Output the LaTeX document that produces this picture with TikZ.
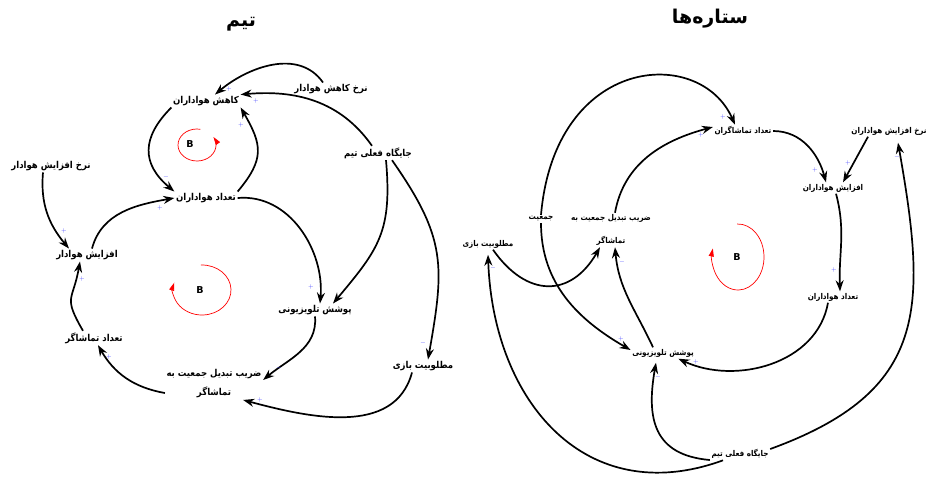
\documentclass[tikz,border=0pt]{standalone}
\usepackage{fontspec}
\usepackage{xcolor}
\usetikzlibrary{arrows.meta}
\newfontfamily\arabicfont[Script=Arabic]{DejaVu Sans}
\newfontfamily\narrowfont[Script=Arabic]{DejaVu Sans Condensed}
\TeXXeTstate=1
\newcommand{\fa}[1]{{\arabicfont\beginR #1\endR}}
\newcommand{\fn}[1]{{\narrowfont\beginR #1\endR}}
\definecolor{signblue}{RGB}{70,70,255}

\begin{document}
\begin{tikzpicture}[x=1pt,y=-1pt]
        \tikzset{var/.style={inner sep=1.5pt,font=\bfseries\fontsize{9.5}{10}\selectfont},
            rvar/.style={inner sep=1.5pt,font=\bfseries\fontsize{8}{8}\selectfont},
            heading/.style={font=\bfseries\fontsize{19}{22}\selectfont},
            lnk/.style={draw,line width=1.7pt,-{Stealth[length=11pt,width=8pt]}},
            sgn/.style={text=signblue,inner sep=0pt,font=\fontsize{6}{6}\selectfont},
            loopline/.style={draw=red,line width=0.7pt,-{Triangle[length=8pt,width=5pt]}},
            looplabel/.style={font=\arabicfont\bfseries\fontsize{9.5}{10}\selectfont}}
        \useasboundingbox (0,0) rectangle (928,477);
        % team
        \node[heading] (tTeam) at (241,24) {\fa{تیم}};
        \node[var] (kah) at (206,101) {\fn{کاهش هواداران}};
        \node[var] (nkh) at (331,89) {\fn{نرخ کاهش هوادار}};
        \node[var] (jay) at (378,153) {\fn{جایگاه فعلی تیم}};
        \node[var] (nah) at (51,166) {\fn{نرخ افزایش هوادار}};
        \node[var] (tha) at (206,198) {\fn{تعداد هواداران}};
        \node[var] (afh) at (87,255) {\fn{افزایش هوادار}};
        \node[var] (pos) at (315,310) {\fn{پوشش تلویزیونی}};
        \node[var] (ttm) at (94,338) {\fn{تعداد تماشاگر}};
        \node[var,align=center,font=\bfseries\fontsize{9.5}{19}\selectfont] (zar) at (214,384)
            {\fn{ضریب تبدیل جمعیت به}\\\fn{تماشاگر}};
        \node[var] (mat) at (423,366) {\fn{مطلوبیت بازی}};
        \node[looplabel] (Bs) at (190,144) {B};
        \node[looplabel] (Bl) at (200,290) {B};

        \draw[lnk] ([xshift=-8pt]nkh.north) to[out=125,in=40] ([xshift=9pt]kah.north);
        \draw[lnk] ([xshift=-6pt]jay.north) to[out=125,in=5] (kah.north east);
        \draw[lnk] (kah.south west) to[out=225,in=140,looseness=1.3] (tha.north west);
        \draw[lnk] (tha.north east) to[out=50,in=-60,looseness=1.3] (kah.south east);
        \draw[lnk] ([xshift=-8pt]nah.south) to[out=-95,in=130] ([xshift=-18pt]afh.north);
        \draw[lnk] ([xshift=5pt]afh.north) to[out=75,in=190] (tha.west);
        \draw[lnk] (tha.east) to[out=5,in=85] ([xshift=5pt]pos.north);
        \draw[lnk] ([xshift=8pt]jay.south) to[out=-85,in=50,looseness=1.2] ([xshift=18pt]pos.north);
        \draw[lnk] ([xshift=14pt]jay.south) to[out=-55,in=80,looseness=1.2] ([xshift=5pt]mat.north);
        \draw[lnk] (pos.south) to[out=-85,in=40] ([yshift=4pt]zar.east);
        \draw[lnk] ([xshift=-11pt]mat.south) to[out=-105,in=-15] ([xshift=-20pt]zar.south east);
        \draw[lnk] ([yshift=-9pt]zar.west) to[out=170,in=-60] ([xshift=4pt]ttm.south);
        \draw[lnk] ([xshift=-11pt]ttm.north) to[out=120,in=-100,looseness=1.5] ([xshift=-7pt]afh.south);

        \draw[loopline] (197,145) ++(80:19pt and 16pt) arc[start angle=80,end angle=390,x radius=19pt,y radius=16pt];
        \draw[loopline] (202,290) ++(92:29pt and 25pt) arc[start angle=92,end angle=-197,x radius=29pt,y radius=25pt];

        % stars
        \node[heading] (tStars) at (710,19) {\fa{ستاره‌ها}};
        \node[rvar] (Rtt) at (743,131) {\fn{تعداد تماشاگران}};
        \node[rvar] (Rnh) at (889,131) {\fn{نرخ افزایش هواداران}};
        \node[rvar] (Raf) at (833,188) {\fn{افزایش هواداران}};
        \node[rvar] (Rja) at (541,219) {\fn{جمعیت}};
        \node[rvar,align=center,font=\bfseries\fontsize{8}{23}\selectfont] (Rzr) at (611,230)
            {\fn{ضریب تبدیل جمعیت به}\\\fn{تماشاگر}};
        \node[rvar] (Rmt) at (488,244) {\fn{مطلوبیت بازی}};
        \node[rvar] (Rth) at (833,297) {\fn{تعداد هواداران}};
        \node[rvar] (Rps) at (663,353) {\fn{پوشش تلویزیونی}};
        \node[rvar] (Rjy) at (740,454) {\fn{جایگاه فعلی تیم}};
        \node[looplabel] (Br) at (737,257) {B};

        \draw[lnk] (Rja.north) .. controls (555,55) and (700,45) .. ([xshift=-8pt]Rtt.north);
        \draw[lnk] ([xshift=4pt]Rzr.north) to[out=80,in=195] ([yshift=4pt]Rtt.west);
        \draw[lnk] (Rtt.east) to[out=0,in=105] ([xshift=-7pt]Raf.north);
        \draw[lnk] ([xshift=-21pt]Rnh.south) -- ([xshift=10pt]Raf.north);
        \draw[lnk] ([xshift=3pt]Raf.south) to[out=-75,in=92] ([xshift=7pt]Rth.north);
        \draw[lnk] ([xshift=-5pt]Rth.south) to[out=-100,in=-25] ([xshift=-17pt]Rps.south east);
        \draw[lnk] (Rja.south) to[out=-90,in=150] ([yshift=3pt]Rps.west);
        \draw[lnk] ([xshift=-10pt]Rps.north) to[out=115,in=-85] ([xshift=4pt]Rzr.south);
        \draw[lnk] ([xshift=5pt]Rmt.south) to[out=-55,in=-120,looseness=1.4] ([xshift=-11pt]Rzr.south);
        \draw[lnk] ([xshift=-17pt]Rjy.south) to[out=-160,in=-88,looseness=1.2] ([yshift=-5pt]Rmt.south);
        \draw[lnk] ([yshift=-6pt]Rjy.west) to[out=175,in=-100,looseness=1.3] ([xshift=-7pt,yshift=-4pt]Rps.south);
        \draw[lnk] ([yshift=5pt]Rjy.east) to[out=20,in=-80,looseness=1.3] ([xshift=9pt,yshift=-6pt]Rnh.south);

        \draw[loopline] (738,257) ++(92:26pt and 33pt) arc[start angle=92,end angle=-195,x radius=26pt,y radius=33pt];

        % polarities
        \foreach \nm/\x/\y/\s in {p1/229/89/+,p2/256/101/+,m3/166/177/-,p4/241/125/+,p5/64/231/+,
            p6/160/208/+,p7/311/287/+,m9/423/343/-,m10/279/368/-,p11/260/400/+,p12/109/357/+,p13/82/279/+,
            q1/723/117/+,q2/701/135/+,q3/815/170/+,q4/848/163/+,q5/834/270/+,q6/696/362/+,q7/621/339/+,
            n8/622/262/-,n10/493/268/-,n11/658/377/-,n12/897/157/-}
            \node[sgn] (\nm) at (\x,\y) {$\s$};
\end{tikzpicture}
\end{document}
